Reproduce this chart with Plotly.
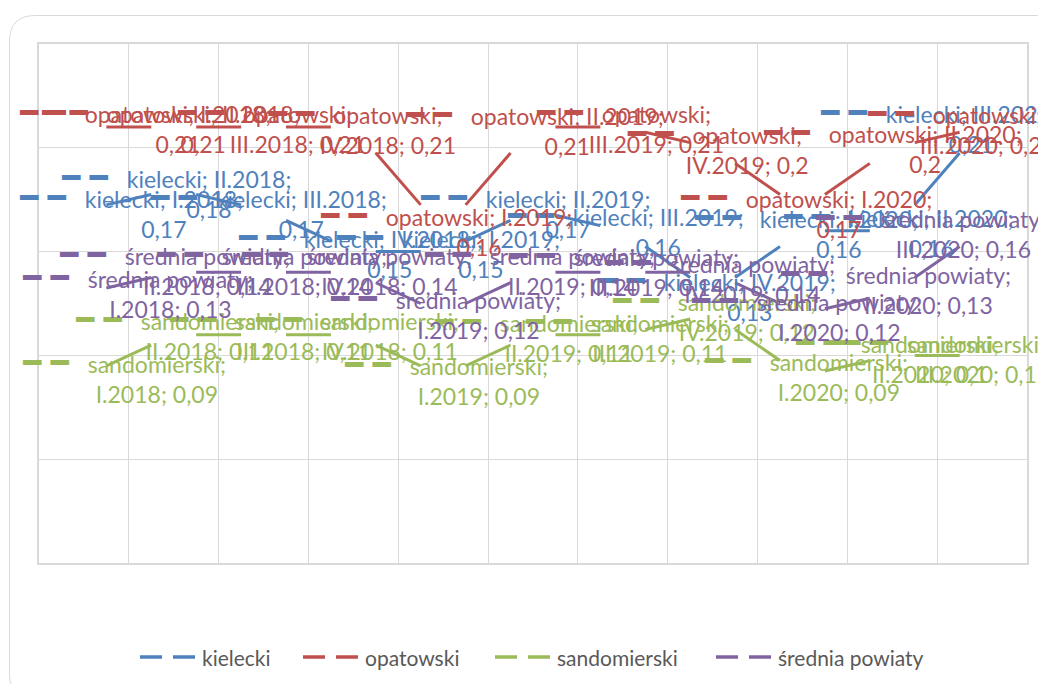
import math
import plotly.graph_objects as go

# ---------------- data ----------------
categories = ["I.2018", "II.2018", "III.2018", "IV.2018",
              "I.2019", "II.2019", "III.2019", "IV.2019",
              "I.2020", "II.2020", "III.2020"]
kielecki = [0.17, 0.18, 0.17, 0.15, 0.15, 0.17, 0.16, 0.13, 0.16, 0.16, 0.21]
opatowski = [0.21, 0.21, 0.21, 0.21, 0.16, 0.21, 0.21, 0.20, 0.17, 0.20, 0.21]
sandomierski = [0.09, 0.11, 0.11, 0.11, 0.09, 0.11, 0.11, 0.12, 0.09, 0.10, 0.10]
srednia_powiaty = [0.13, 0.14, 0.14, 0.14, 0.12, 0.14, 0.14, 0.14, 0.12, 0.13, 0.16]
series_names = ["kielecki", "opatowski", "sandomierski", "średnia powiaty"]

# ---------------- style ----------------
colors = ["#4F81BD", "#C0504D", "#9BBB59", "#8064A2"]
PAGE_OFF = 8                      # default body margin of the html page
W, H = 1046, 684 - PAGE_OFF
PLOT_L, PLOT_T, PLOT_R, PLOT_B = 39, 44, 1027, 563   # plot area in page px
ML, MT = PLOT_L - PAGE_OFF, PLOT_T - PAGE_OFF
MR = W - (PLOT_R - PAGE_OFF)
MB = H - (PLOT_B - PAGE_OFF)
YMAX = 0.25
LABEL_FONT = "Lato, 'Open Sans', sans-serif"
LABEL_SIZE = 23
KEY_STYLE = "font-family:DejaVu Sans;font-size:30px"
KEY = "━\u00a0━\u00a0\u00a0"
KEY_W = 65          # approx pixel width of the key prefix
LINE_GAP = 15       # half distance between label lines
WRAP_EM = 8.0       # label wrap width (approx. em units)

# label offsets (px) of the label text centre relative to the data point
label_dx = [
    [80, 35, 37, 36, 37, 34, 35, 37, 36, 38, -11],
    [94, 29, 33, 34, 35, 34, 33, 34, 36, 33, 5],
    [73, 36, 40, 36, 35, 35, 37, 34, 36, 37, -7],
    [86, 33, 40, 36, 35, 39, 33, 39, 37, 36, -19],
]
label_dy = [
    [-13, -12, -13, -14, -14, -13, -15, -13, -13, -14, -15],
    [-15, -15, -15, -14, -15, -13, -15, -14, -13, -15, -14],
    [-14, -15, -15, -15, -12, -13, -13, -13, -16, -13, -13],
    [-16, -18, -18, -18, -15, -18, -17, -10, -13, -20, -13],
]
# legend layout (page px)
LEGEND_KEY_X = [140, 303, 495, 716]
LEGEND_Y = 657
LEGEND_KEY_LEN = 55

all_values = [kielecki, opatowski, sandomierski, srednia_powiaty]

plot_w = PLOT_R - PLOT_L
plot_h = PLOT_B - PLOT_T
px_cat = plot_w / len(categories)
px_unit = plot_h / YMAX

CHAR_W = {"I": .252, "V": .579, ".": .252, ";": .268, " ": .226}


def text_em(s):
    return sum(CHAR_W.get(c, .507 if c.isdigit() else .48) for c in s)


def mid_dash(values):
    """Dash pattern that shows the middle half of every segment."""
    lens = [math.hypot(px_cat, (values[i + 1] - values[i]) * px_unit)
            for i in range(len(values) - 1)]
    parts = [0.0, lens[0] / 4]
    for i, L in enumerate(lens):
        parts.append(L / 2)
        nxt = lens[i + 1] / 4 if i + 1 < len(lens) else 200
        parts.append(L / 4 + nxt)
    return ",".join(f"{p:.2f}px" for p in parts)


def to_paper(px, py):
    return (px - PLOT_L) / plot_w, (PLOT_B - py) / plot_h


fig = go.Figure()

for name, vals, col in zip(series_names, all_values, colors):
    fig.add_trace(go.Scatter(
        x=categories, y=vals, mode="lines", name=name,
        line=dict(color=col, width=3, dash=mid_dash(vals)),
        showlegend=False, hoverinfo="skip"))

annotations = []
for s, (name, vals, col) in enumerate(zip(series_names, all_values, colors)):
    for i, (cat, v) in enumerate(zip(categories, vals)):
        vs = f"{v:g}".replace(".", ",")
        l1 = f"{name}; {cat};"
        if text_em(l1) <= WRAP_EM:
            line1, line2 = l1, vs
        else:
            line1, line2 = f"{name};", f"{cat}; {vs}"
        text = (f"<span style='{KEY_STYLE}'>{KEY}</span>{line1}<br>"
                f"<span style='{KEY_STYLE};color:rgba(0,0,0,0)'>{KEY}</span>{line2}")
        annotations.append(dict(
            x=cat, y=v, xref="x", yref="y", text=text, showarrow=False,
            xanchor="center", yanchor="middle", align="center",
            xshift=label_dx[s][i] - KEY_W / 2,
            yshift=-(label_dy[s][i] + LINE_GAP),
            font=dict(family=LABEL_FONT, size=LABEL_SIZE, color=col)))

shapes = []
# legend (keys + names)
for name, col, kx in zip(series_names, colors, LEGEND_KEY_X):
    xa, ya = to_paper(kx, LEGEND_Y)
    xb, _ = to_paper(kx + LEGEND_KEY_LEN, LEGEND_Y)
    shapes.append(dict(type="line", xref="paper", yref="paper",
                       x0=xa, x1=xb, y0=ya, y1=ya,
                       line=dict(color=col, width=3.5, dash="22px,11px")))
    xt, _ = to_paper(kx + LEGEND_KEY_LEN + 5, LEGEND_Y)
    annotations.append(dict(x=xt, y=ya, xref="paper", yref="paper", text=name,
                            showarrow=False, xanchor="left", yanchor="middle",
                            font=dict(family=LABEL_FONT, size=21, color="#595959")))

# outer rounded border of the chart area
x0, y0, x1, y1, r = 9.5, 15.5, 1062, 700, 26
pts = [("M", x0 + r, y0), ("L", x1 - r, y0), ("Q", x1, y0, x1, y0 + r),
       ("L", x1, y1 - r), ("Q", x1, y1, x1 - r, y1), ("L", x0 + r, y1),
       ("Q", x0, y1, x0, y1 - r), ("L", x0, y0 + r), ("Q", x0, y0, x0 + r, y0)]
path = ""
for p in pts:
    coords = p[1:]
    segs = []
    for k in range(0, len(coords), 2):
        px_, py_ = to_paper(coords[k], coords[k + 1])
        segs.append(f"{px_:.5f},{py_:.5f}")
    path += p[0] + " ".join(segs) + " "
path += "Z"
shapes.append(dict(type="path", path=path, xref="paper", yref="paper",
                   line=dict(color="#d9d9d9", width=1), layer="below"))

fig.update_layout(
    width=W, height=H,
    margin=dict(l=ML, r=MR, t=MT, b=MB, pad=0),
    paper_bgcolor="white", plot_bgcolor="white",
    annotations=annotations,
    shapes=shapes,
    showlegend=False,
    xaxis=dict(type="category", categoryorder="array", categoryarray=categories,
               range=[-0.5, len(categories) - 0.5], tickson="boundaries",
               showgrid=True, gridcolor="#d9d9d9", gridwidth=1,
               showticklabels=False, ticks="", showline=True, mirror=True,
               linecolor="#d9d9d9", linewidth=1.5, zeroline=False,
               fixedrange=True),
    yaxis=dict(range=[0, YMAX], dtick=0.05, showgrid=True, gridcolor="#d9d9d9",
               gridwidth=1, showticklabels=False, ticks="", showline=True,
               mirror=True, linecolor="#d9d9d9", linewidth=1.5, zeroline=False,
               fixedrange=True),
)

fig.write_html("out.html")
